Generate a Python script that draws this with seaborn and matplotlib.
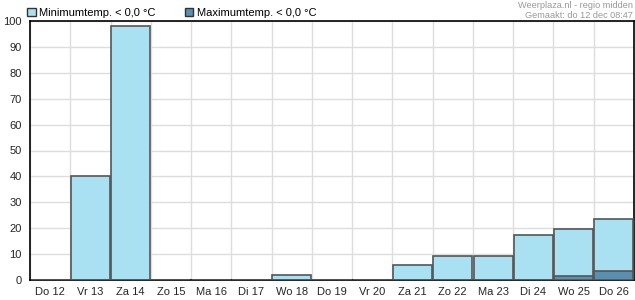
import matplotlib
matplotlib.use("Agg")
import matplotlib.pyplot as plt
import seaborn as sns
import pandas as pd
import numpy as np
from matplotlib.patches import Patch

days = ["Do 12", "Vr 13", "Za 14", "Zo 15", "Ma 16", "Di 17", "Wo 18", "Do 19",
        "Vr 20", "Za 21", "Zo 22", "Ma 23", "Di 24", "Wo 25", "Do 26"]
min_vals = [0, 40.2, 98, 0, 0, 0, 2, 0, 0, 5.7, 9.4, 9.4, 17.5, 19.6, 23.5]
max_vals = [0, 0, 0, 0, 0, 0, 0, 0, 0, 0, 0, 0, 0, 1.5, 3.5]
yticks = list(range(0, 101, 10))

min_color = "#aae1f2"
max_color = "#5a8fb0"
edge = "#555555"

sns.set_style("white")
plt.rcParams["font.family"] = ["Liberation Sans", "DejaVu Sans"]

fig = plt.figure(figsize=(6.35, 3.0), dpi=100)
ax = fig.add_axes([30/635, 20/300, 604/635, 259/300])

df = pd.DataFrame({"day": days, "min": min_vals, "max": max_vals})
sns.barplot(data=df, x="day", y="min", color=min_color, saturation=1,
            width=0.97, edgecolor=edge, linewidth=1.2, ax=ax, zorder=3)
sns.barplot(data=df, x="day", y="max",
            color=max_color, saturation=1, width=0.97, edgecolor=edge,
            linewidth=1.2, ax=ax, zorder=4)

ax.set_xlim(-0.5, len(days) - 0.5)
ax.set_ylim(0, 100)
ax.set_yticks(yticks)
ax.set_yticklabels([str(t) for t in yticks], fontsize=8)
ax.set_xticks(range(len(days)))
ax.set_xticklabels(days, fontsize=8)
ax.tick_params(axis="x", which="major", length=0, pad=5)
ax.set_xticks(np.arange(-0.5, len(days), 1.0), minor=True)
ax.tick_params(axis="x", which="minor", length=4, width=1, color="black", direction="out")
ax.tick_params(axis="y", length=4, width=1, color="black", direction="out", pad=2)
ax.set_xlabel("")
ax.set_ylabel("")

ax.grid(True, axis="y", color="#dddddd", linewidth=1, zorder=0)
ax.grid(True, axis="x", which="minor", color="#dddddd", linewidth=1, zorder=0)
ax.set_axisbelow(True)
for s in ax.spines.values():
    s.set_visible(True)
    s.set_color("black")
    s.set_linewidth(1.2)

handles = [Patch(facecolor=min_color, edgecolor="#333333", label="Minimumtemp. < 0,0 °C"),
           Patch(facecolor=max_color, edgecolor="#333333", label="Maximumtemp. < 0,0 °C")]
fig.legend(handles=handles, loc="center left", bbox_to_anchor=(27/635, 1 - 13/300), ncol=2,
           frameon=False, fontsize=8, handlelength=0.8, handleheight=0.8,
           handletextpad=0.3, columnspacing=2.6, borderaxespad=0, borderpad=0,
           labelcolor="black")

fig.text(0.997, 0.998, "Weerplaza.nl - regio midden", ha="right", va="top",
         fontsize=6.6, color="#999999")
fig.text(0.997, 0.962, "Gemaakt: do 12 dec 08:47", ha="right", va="top",
         fontsize=6.6, color="#999999")

fig.savefig("out.png", dpi=100, facecolor="white")
